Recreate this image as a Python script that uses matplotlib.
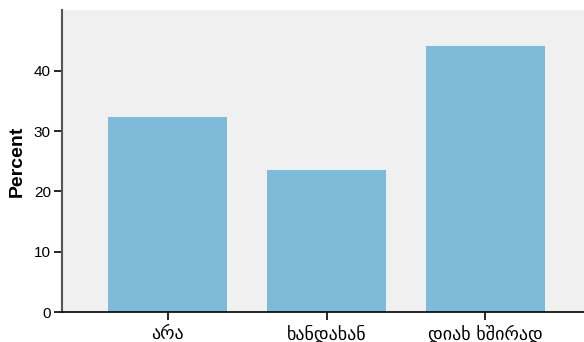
import matplotlib
matplotlib.use("Agg")
import matplotlib.pyplot as plt

plt.rcParams['font.family'] = ['Liberation Sans', 'DejaVu Sans']

categories = ["არა", "ხანდახან", "დიახ ხშირად"]
percents = [32.4, 23.5, 44.1]
yticks = [0, 10, 20, 30, 40]

fig = plt.figure(figsize=(5.84, 3.42), dpi=100)
ax = fig.add_axes([62 / 584, 30 / 342, 522 / 584, 302 / 342])
ax.set_facecolor('#f0f0f0')

x = list(range(len(categories)))
ax.bar(x, percents, width=0.75, color='#7dbbd8', zorder=2)

ax.set_xlim(-0.665, 2.62)
ax.set_ylim(0, 50.1)
ax.set_yticks(yticks)
ax.set_xticks(x)
ax.set_xticklabels(categories, fontsize=13, family=['DejaVu Sans'])
ax.tick_params(axis='y', labelsize=11, length=6, width=1.2, color='black', pad=2)
ax.tick_params(axis='x', length=6, width=1.2, color='black', pad=3)

ax.spines['top'].set_visible(False)
ax.spines['right'].set_visible(False)
ax.spines['left'].set_color('#555555')
ax.spines['left'].set_linewidth(1.5)
ax.spines['bottom'].set_color('black')
ax.spines['bottom'].set_linewidth(1.2)

ax.set_ylabel('Percent', fontsize=14, fontweight='bold', labelpad=6)

fig.savefig('out.png', dpi=100)
